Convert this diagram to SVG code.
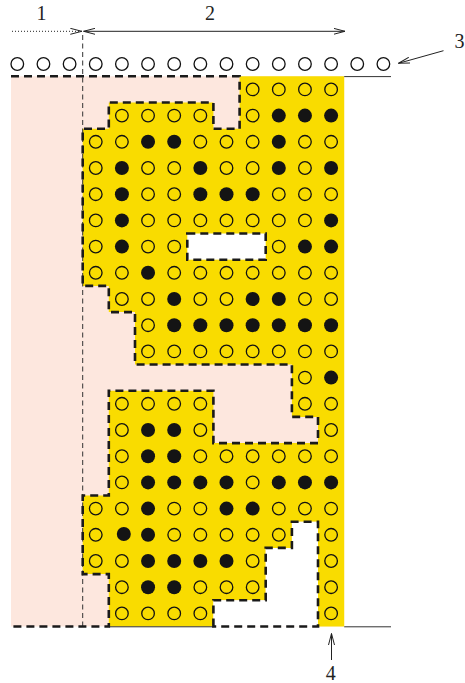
<svg xmlns="http://www.w3.org/2000/svg" width="465" height="683" viewBox="0 0 465 683">
<style>
.o{fill:none;stroke:#111;stroke-width:1.3}
.f{fill:#141414}
.bd{fill:none;stroke:#1a1a1a;stroke-width:2.6;stroke-dasharray:8 5}
.thin{fill:none;stroke:#333;stroke-width:1}
.lbl{font-family:"Liberation Serif","Times New Roman",serif;font-size:20px;fill:#222;text-anchor:middle}
.ar{fill:none;stroke:#222;stroke-width:1}
</style>
<defs>
<marker id="ah" viewBox="0 0 12 7" refX="11.5" refY="3.5" markerWidth="12" markerHeight="7" markerUnits="userSpaceOnUse" orient="auto-start-reverse">
<path d="M0,0.5 L11.5,3.5 L0,6.5" fill="none" stroke="#222" stroke-width="1"/>
</marker>
</defs>
<rect width="465" height="683" fill="#fff"/>
<g id="background">
<rect x="11" y="76.3" width="333.2" height="550.2" fill="#FDE7DE"/>
</g>
<g id="yellow-region">
<path fill="#F9DC00" d="M239.6,76.3 H344.2 V626.5 H318 V521.7 H291.9 V547.9 H265.7 V600.3 H213.4 V626.5 H108.8 V574.1 H82.7 V495.5 H108.8 V390.7 H213.4 V443.1 H318 V416.9 H291.9 V364.5 H135 V312.1 H108.8 V285.9 H82.7 V128.7 H108.8 V102.5 H213.4 V128.7 H239.6 Z"/>
</g>
<g id="holes">
<rect x="187.3" y="233.5" width="78.4" height="26.2" fill="#fff"/>
<path fill="#fff" d="M213.4,626.5 V600.3 H265.7 V547.9 H291.9 V521.7 H318 V626.5 Z"/>
</g>
<g id="guides">
<line class="thin" x1="82.7" y1="35" x2="82.7" y2="626.5" stroke-dasharray="5 3.5"/>
<line class="thin" x1="344.2" y1="76.6" x2="391" y2="76.6"/>
<line class="thin" x1="108.8" y1="626.8" x2="213.4" y2="626.8"/>
<line class="thin" x1="344.2" y1="626.8" x2="391" y2="626.8"/>
</g>
<g id="boundaries">
<path class="bd" d="M11,76.3 H239.6 V128.7 H213.4 V102.5 H108.8 V128.7 H82.7 V285.9 H108.8 V312.1 H135 V364.5 H291.9 V416.9 H318 V443.1 H213.4 V390.7 H108.8 V495.5 H82.7 V574.1 H108.8 V626.5 H11"/>
<rect class="bd" x="187.3" y="233.5" width="78.4" height="26.2"/>
<path class="bd" d="M213.4,626.5 V600.3 H265.7 V547.9 H291.9 V521.7 H318 V626.5 Z"/>
</g>
<g id="top-row">
<circle class="o" r="6.3" cx="17.3" cy="64"/><circle class="o" r="6.3" cx="43.45" cy="64"/><circle class="o" r="6.3" cx="69.6" cy="64"/><circle class="o" r="6.3" cx="95.75" cy="64"/><circle class="o" r="6.3" cx="121.9" cy="64"/><circle class="o" r="6.3" cx="148.05" cy="64"/><circle class="o" r="6.3" cx="174.2" cy="64"/><circle class="o" r="6.3" cx="200.35" cy="64"/><circle class="o" r="6.3" cx="226.5" cy="64"/><circle class="o" r="6.3" cx="252.65" cy="64"/><circle class="o" r="6.3" cx="278.8" cy="64"/><circle class="o" r="6.3" cx="304.95" cy="64"/><circle class="o" r="6.3" cx="331.1" cy="64"/><circle class="o" r="6.3" cx="357.25" cy="64"/><circle class="o" r="6.3" cx="383.4" cy="64"/>
</g>
<g id="grid">
<!-- r0 -->
<circle class="o" r="6.3" cx="252.65" cy="89.4"/><circle class="o" r="6.3" cx="278.8" cy="89.4"/><circle class="o" r="6.3" cx="304.95" cy="89.4"/><circle class="o" r="6.3" cx="331.1" cy="89.4"/>
<!-- r1 -->
<circle class="o" r="6.3" cx="121.9" cy="115.6"/><circle class="o" r="6.3" cx="148.05" cy="115.6"/><circle class="o" r="6.3" cx="174.2" cy="115.6"/><circle class="o" r="6.3" cx="200.35" cy="115.6"/><circle class="o" r="6.3" cx="252.65" cy="115.6"/><circle class="f" r="7" cx="278.8" cy="115.6"/><circle class="f" r="7" cx="304.95" cy="115.6"/><circle class="f" r="7" cx="331.1" cy="115.6"/>
<!-- r2 -->
<circle class="o" r="6.3" cx="95.75" cy="141.8"/><circle class="o" r="6.3" cx="121.9" cy="141.8"/><circle class="f" r="7" cx="148.05" cy="141.8"/><circle class="f" r="7" cx="174.2" cy="141.8"/><circle class="o" r="6.3" cx="200.35" cy="141.8"/><circle class="o" r="6.3" cx="226.5" cy="141.8"/><circle class="o" r="6.3" cx="252.65" cy="141.8"/><circle class="f" r="7" cx="278.8" cy="141.8"/><circle class="o" r="6.3" cx="304.95" cy="141.8"/><circle class="o" r="6.3" cx="331.1" cy="141.8"/>
<!-- r3 -->
<circle class="o" r="6.3" cx="95.75" cy="168"/><circle class="f" r="7" cx="121.9" cy="168"/><circle class="o" r="6.3" cx="148.05" cy="168"/><circle class="o" r="6.3" cx="174.2" cy="168"/><circle class="f" r="7" cx="200.35" cy="168"/><circle class="o" r="6.3" cx="226.5" cy="168"/><circle class="o" r="6.3" cx="252.65" cy="168"/><circle class="f" r="7" cx="278.8" cy="168"/><circle class="o" r="6.3" cx="304.95" cy="168"/><circle class="f" r="7" cx="331.1" cy="168"/>
<!-- r4 -->
<circle class="o" r="6.3" cx="95.75" cy="194.2"/><circle class="f" r="7" cx="121.9" cy="194.2"/><circle class="o" r="6.3" cx="148.05" cy="194.2"/><circle class="o" r="6.3" cx="174.2" cy="194.2"/><circle class="f" r="7" cx="200.35" cy="194.2"/><circle class="f" r="7" cx="226.5" cy="194.2"/><circle class="f" r="7" cx="252.65" cy="194.2"/><circle class="o" r="6.3" cx="278.8" cy="194.2"/><circle class="o" r="6.3" cx="304.95" cy="194.2"/><circle class="o" r="6.3" cx="331.1" cy="194.2"/>
<!-- r5 -->
<circle class="o" r="6.3" cx="95.75" cy="220.4"/><circle class="f" r="7" cx="121.9" cy="220.4"/><circle class="o" r="6.3" cx="148.05" cy="220.4"/><circle class="o" r="6.3" cx="174.2" cy="220.4"/><circle class="o" r="6.3" cx="200.35" cy="220.4"/><circle class="o" r="6.3" cx="226.5" cy="220.4"/><circle class="o" r="6.3" cx="252.65" cy="220.4"/><circle class="o" r="6.3" cx="278.8" cy="220.4"/><circle class="o" r="6.3" cx="304.95" cy="220.4"/><circle class="f" r="7" cx="331.1" cy="220.4"/>
<!-- r6 -->
<circle class="o" r="6.3" cx="95.75" cy="246.6"/><circle class="f" r="7" cx="121.9" cy="246.6"/><circle class="o" r="6.3" cx="148.05" cy="246.6"/><circle class="o" r="6.3" cx="174.2" cy="246.6"/><circle class="o" r="6.3" cx="278.8" cy="246.6"/><circle class="f" r="7" cx="304.95" cy="246.6"/><circle class="f" r="7" cx="331.1" cy="246.6"/>
<!-- r7 -->
<circle class="o" r="6.3" cx="95.75" cy="272.8"/><circle class="o" r="6.3" cx="121.9" cy="272.8"/><circle class="f" r="7" cx="148.05" cy="272.8"/><circle class="o" r="6.3" cx="174.2" cy="272.8"/><circle class="o" r="6.3" cx="200.35" cy="272.8"/><circle class="o" r="6.3" cx="226.5" cy="272.8"/><circle class="o" r="6.3" cx="252.65" cy="272.8"/><circle class="o" r="6.3" cx="278.8" cy="272.8"/><circle class="o" r="6.3" cx="304.95" cy="272.8"/><circle class="o" r="6.3" cx="331.1" cy="272.8"/>
<!-- r8 -->
<circle class="o" r="6.3" cx="121.9" cy="299"/><circle class="o" r="6.3" cx="148.05" cy="299"/><circle class="f" r="7" cx="174.2" cy="299"/><circle class="o" r="6.3" cx="200.35" cy="299"/><circle class="o" r="6.3" cx="226.5" cy="299"/><circle class="f" r="7" cx="252.65" cy="299"/><circle class="f" r="7" cx="278.8" cy="299"/><circle class="o" r="6.3" cx="304.95" cy="299"/><circle class="o" r="6.3" cx="331.1" cy="299"/>
<!-- r9 -->
<circle class="o" r="6.3" cx="148.05" cy="325.2"/><circle class="f" r="7" cx="174.2" cy="325.2"/><circle class="f" r="7" cx="200.35" cy="325.2"/><circle class="f" r="7" cx="226.5" cy="325.2"/><circle class="f" r="7" cx="252.65" cy="325.2"/><circle class="f" r="7" cx="278.8" cy="325.2"/><circle class="f" r="7" cx="304.95" cy="325.2"/><circle class="f" r="7" cx="331.1" cy="325.2"/>
<!-- r10 -->
<circle class="o" r="6.3" cx="148.05" cy="351.4"/><circle class="o" r="6.3" cx="174.2" cy="351.4"/><circle class="o" r="6.3" cx="200.35" cy="351.4"/><circle class="o" r="6.3" cx="226.5" cy="351.4"/><circle class="o" r="6.3" cx="252.65" cy="351.4"/><circle class="o" r="6.3" cx="278.8" cy="351.4"/><circle class="o" r="6.3" cx="304.95" cy="351.4"/><circle class="o" r="6.3" cx="331.1" cy="351.4"/>
<!-- r11 -->
<circle class="o" r="6.3" cx="304.95" cy="377.6"/><circle class="f" r="7" cx="331.1" cy="377.6"/>
<!-- r12 -->
<circle class="o" r="6.3" cx="121.9" cy="403.8"/><circle class="o" r="6.3" cx="148.05" cy="403.8"/><circle class="o" r="6.3" cx="174.2" cy="403.8"/><circle class="o" r="6.3" cx="200.35" cy="403.8"/><circle class="o" r="6.3" cx="304.95" cy="403.8"/><circle class="o" r="6.3" cx="331.1" cy="403.8"/>
<!-- r13 -->
<circle class="o" r="6.3" cx="121.9" cy="430"/><circle class="f" r="7" cx="148.05" cy="430"/><circle class="f" r="7" cx="174.2" cy="430"/><circle class="o" r="6.3" cx="200.35" cy="430"/><circle class="o" r="6.3" cx="331.1" cy="430"/>
<!-- r14 -->
<circle class="o" r="6.3" cx="121.9" cy="456.2"/><circle class="f" r="7" cx="148.05" cy="456.2"/><circle class="f" r="7" cx="174.2" cy="456.2"/><circle class="o" r="6.3" cx="200.35" cy="456.2"/><circle class="o" r="6.3" cx="226.5" cy="456.2"/><circle class="o" r="6.3" cx="252.65" cy="456.2"/><circle class="o" r="6.3" cx="278.8" cy="456.2"/><circle class="o" r="6.3" cx="304.95" cy="456.2"/><circle class="o" r="6.3" cx="331.1" cy="456.2"/>
<!-- r15 -->
<circle class="o" r="6.3" cx="121.9" cy="482.4"/><circle class="f" r="7" cx="148.05" cy="482.4"/><circle class="f" r="7" cx="174.2" cy="482.4"/><circle class="f" r="7" cx="200.35" cy="482.4"/><circle class="f" r="7" cx="226.5" cy="482.4"/><circle class="o" r="6.3" cx="252.65" cy="482.4"/><circle class="f" r="7" cx="278.8" cy="482.4"/><circle class="f" r="7" cx="304.95" cy="482.4"/><circle class="f" r="7" cx="331.1" cy="482.4"/>
<!-- r16 -->
<circle class="o" r="6.3" cx="95.75" cy="508.6"/><circle class="o" r="6.3" cx="121.9" cy="508.6"/><circle class="f" r="7" cx="148.05" cy="508.6"/><circle class="o" r="6.3" cx="174.2" cy="508.6"/><circle class="o" r="6.3" cx="200.35" cy="508.6"/><circle class="f" r="7" cx="226.5" cy="508.6"/><circle class="f" r="7" cx="252.65" cy="508.6"/><circle class="o" r="6.3" cx="278.8" cy="508.6"/><circle class="o" r="6.3" cx="304.95" cy="508.6"/><circle class="o" r="6.3" cx="331.1" cy="508.6"/>
<!-- r17 -->
<circle class="o" r="6.3" cx="95.75" cy="534.8"/><circle class="f" r="7" cx="123.8" cy="534"/><circle class="f" r="7" cx="148.05" cy="534.8"/><circle class="o" r="6.3" cx="174.2" cy="534.8"/><circle class="o" r="6.3" cx="200.35" cy="534.8"/><circle class="o" r="6.3" cx="226.5" cy="534.8"/><circle class="o" r="6.3" cx="252.65" cy="534.8"/><circle class="o" r="6.3" cx="278.8" cy="534.8"/><circle class="o" r="6.3" cx="331.1" cy="534.8"/>
<!-- r18 -->
<circle class="o" r="6.3" cx="95.75" cy="561"/><circle class="o" r="6.3" cx="121.9" cy="561"/><circle class="f" r="7" cx="148.05" cy="561"/><circle class="f" r="7" cx="174.2" cy="561"/><circle class="f" r="7" cx="200.35" cy="561"/><circle class="f" r="7" cx="226.5" cy="561"/><circle class="o" r="6.3" cx="252.65" cy="561"/><circle class="o" r="6.3" cx="331.1" cy="561"/>
<!-- r19 -->
<circle class="o" r="6.3" cx="121.9" cy="587.2"/><circle class="f" r="7" cx="148.05" cy="587.2"/><circle class="f" r="7" cx="174.2" cy="587.2"/><circle class="o" r="6.3" cx="200.35" cy="587.2"/><circle class="o" r="6.3" cx="226.5" cy="587.2"/><circle class="o" r="6.3" cx="252.65" cy="587.2"/><circle class="o" r="6.3" cx="331.1" cy="587.2"/>
<!-- r20 -->
<circle class="o" r="6.3" cx="121.9" cy="613.4"/><circle class="o" r="6.3" cx="148.05" cy="613.4"/><circle class="o" r="6.3" cx="174.2" cy="613.4"/><circle class="o" r="6.3" cx="200.35" cy="613.4"/><circle class="o" r="6.3" cx="331.1" cy="613.4"/>
</g>
<g id="connectors">
<path class="ar" d="M12,31.3 H81.8" stroke-dasharray="1 2" marker-end="url(#ah)"/>
<path class="ar" d="M83.6,31.3 H345" marker-start="url(#ah)" marker-end="url(#ah)"/>
<path class="ar" d="M443.5,50.7 L398.5,63.3" marker-end="url(#ah)"/>
<path class="ar" d="M331.5,660 V633.5" marker-end="url(#ah)"/>
</g>
<g id="labels">
<text class="lbl" x="41.5" y="20">1</text>
<text class="lbl" x="210" y="20">2</text>
<text class="lbl" x="459.5" y="48">3</text>
<text class="lbl" x="330.7" y="680">4</text>
</g>
</svg>
